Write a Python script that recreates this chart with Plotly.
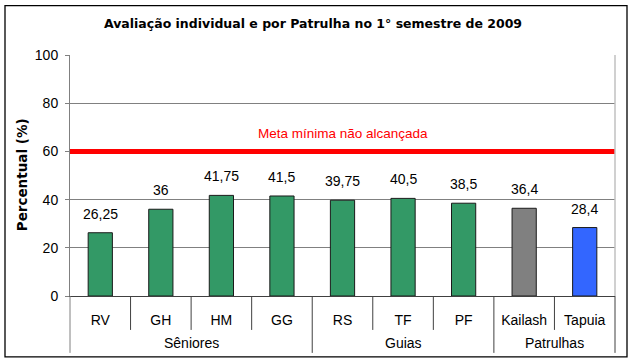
import plotly.graph_objects as go

# ---- data ----
categories = ["RV", "GH", "HM", "GG", "RS", "TF", "PF", "Kailash", "Tapuia"]
values = [26.25, 36, 41.75, 41.5, 39.75, 40.5, 38.5, 36.4, 28.4]
groups = ["Sêniores"] * 4 + ["Guias"] * 3 + ["Patrulhas"] * 2
target = 60
target_label = "Meta mínima não alcançada"
title = "Avaliação individual e por Patrulha no 1° semestre de 2009"
y_title = "Percentual (%)"
y_ticks = [0, 20, 40, 60, 80, 100]

# ---- styles ----
bar_colors = ["#339966"] * 7 + ["#808080", "#3366FF"]
FONT = "Liberation Sans, Arial, sans-serif"
BOLD_FONT = "DejaVu Sans, Liberation Sans, Arial, sans-serif"
W, H = 634, 364
L, R, T, B = 70, 615, 54.5, 296


def px_x(p):
    return (p - L) / (R - L)


def px_y(p):
    return (B - p) / (B - T)


n = len(categories)
xs = list(range(n))
labels = [f"{v:g}".replace(".", ",") for v in values]

fig = go.Figure()
fig.add_trace(go.Bar(
    x=xs, y=values, width=0.4,
    marker=dict(color=bar_colors, line=dict(color="#1a1a1a", width=1)),
    hoverinfo="skip",
))

annotations = []
for x, v, t in zip(xs, values, labels):
    annotations.append(dict(x=x, y=v, text=t, showarrow=False, yanchor="bottom",
                            yshift=9, font=dict(size=14, color="black", family=FONT)))

annotations.append(dict(x=4, y=target, text=target_label, showarrow=False, yanchor="bottom",
                        yshift=8, font=dict(size=13.5, color="#FF0000", family=FONT)))

# y-axis title
annotations.append(dict(x=px_x(22), xref="paper", y=px_y(175), yref="paper",
                        text=f"<b>{y_title}</b>", textangle=-90, showarrow=False,
                        xanchor="center", yanchor="middle",
                        font=dict(size=13.5, color="black", family=BOLD_FONT)))

# group spans
shapes = []
group_spans = []
start = 0
for i in range(1, n + 1):
    if i == n or groups[i] != groups[i - 1]:
        group_spans.append((groups[start], start, i - 1))
        start = i
group_edges = {s for _, s, _ in group_spans} | {n}
for b in range(0, n + 1):
    xp = b / n
    is_group = b in group_edges
    y_end = px_y(353) if is_group else px_y(330)
    color = "#808080" if b == 0 else "#404040"
    shapes.append(dict(type="line", xref="paper", yref="paper", x0=xp, x1=xp,
                       y0=0, y1=y_end, line=dict(color=color, width=1)))
for name, s, e in group_spans:
    annotations.append(dict(x=(s + e) / 2, xref="x", y=px_y(343), yref="paper",
                            text=name, showarrow=False, yanchor="middle",
                            font=dict(size=14, color="black", family=FONT)))

# target line
shapes.append(dict(type="line", xref="x", yref="y", x0=-0.5, x1=n - 0.5, y0=target, y1=target,
                   line=dict(color="#FF0000", width=5)))
# right border of plot area
shapes.append(dict(type="line", xref="paper", yref="paper", x0=1, x1=1, y0=0, y1=1,
                   line=dict(color="#c0c0c0", width=1.5)))
# outer frame
shapes.append(dict(type="rect", xref="paper", yref="paper",
                   x0=px_x(5), x1=px_x(627), y0=px_y(357), y1=px_y(5),
                   line=dict(color="black", width=1.3), fillcolor="rgba(0,0,0,0)", layer="above"))

fig.update_layout(
    width=W, height=H,
    margin=dict(l=L, r=W - R, t=T, b=H - B, autoexpand=False),
    paper_bgcolor="white", plot_bgcolor="white",
    showlegend=False,
    font=dict(family=FONT, color="black", size=14),
    title=dict(text=f"<b>{title}</b>", x=px_x(313), xref="paper", xanchor="center",
               y=1 - 24 / H, yanchor="middle", font=dict(size=12.5, family=BOLD_FONT)),
    xaxis=dict(range=[-0.5, n - 0.5], tickvals=xs, ticktext=categories, ticks="",
               showgrid=False, zeroline=False, showline=True, linecolor="#404040", linewidth=1,
               ticklabelstandoff=11, tickfont=dict(size=14, family=FONT), fixedrange=True),
    yaxis=dict(range=[0, 100], tickvals=y_ticks, showgrid=True, gridcolor="#808080", gridwidth=1,
               zeroline=False, showline=True, linecolor="#808080", linewidth=1,
               ticks="outside", ticklen=4, tickcolor="#808080", ticklabelstandoff=4,
               tickfont=dict(size=14, family=FONT), fixedrange=True),
    shapes=shapes,
    annotations=annotations,
)

fig.write_html("out.html", config={"displayModeBar": False},
               post_script="document.body.style.margin='0';")
